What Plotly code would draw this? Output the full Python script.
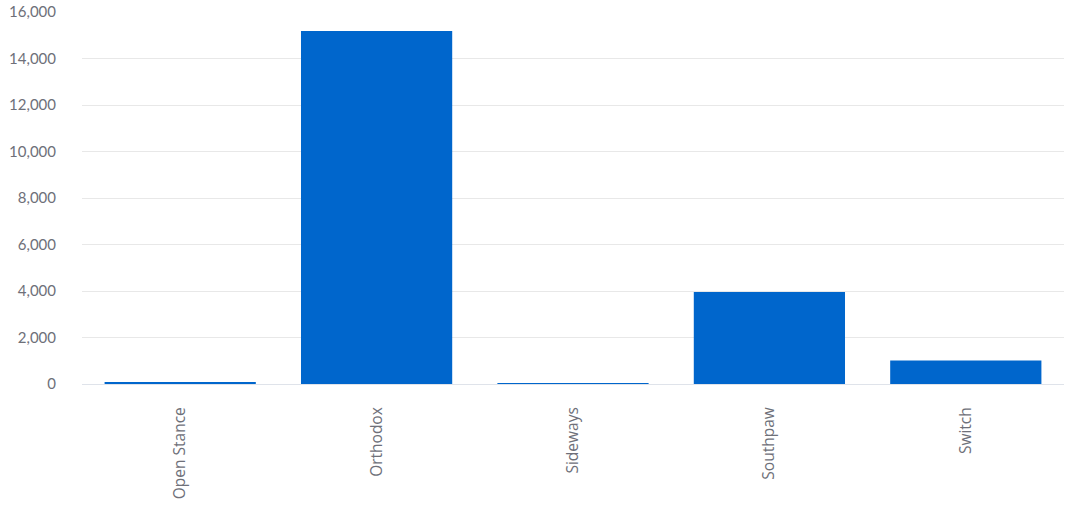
import plotly.graph_objects as go

stances = ["Open Stance", "Orthodox", "Sideways", "Southpaw", "Switch"]
fighters = [45, 15180, 12, 3960, 1010]
y_ticks = [0, 2000, 4000, 6000, 8000, 10000, 12000, 14000, 16000]

fig = go.Figure(go.Bar(x=stances, y=fighters, marker_color="#0066cc",
                       marker_line_width=0))

fig.update_layout(
    width=1083, height=510,
    margin=dict(l=82, r=19, t=12, b=126),
    plot_bgcolor="white", paper_bgcolor="white",
    bargap=0.23, showlegend=False,
)
fig.update_xaxes(
    automargin=False,
    tickangle=-90, showgrid=False, showline=True, linecolor="#dfe3ea",
    linewidth=1, ticks="outside", ticklen=16, tickcolor="rgba(0,0,0,0)",
    tickfont=dict(family="Open Sans", size=15.5, color="#6e7079"),
)
fig.update_yaxes(
    automargin=False, ticklabeloverflow="allow",
    range=[0, 16000], tickvals=y_ticks, tickformat=",", zeroline=False,
    showgrid=True, gridcolor="#e8e8e8", showline=False,
    ticks="outside", ticklen=22, tickcolor="rgba(0,0,0,0)",
    tickfont=dict(family="Lato", size=15, color="#6e7079"),
)

# drop the browser's default 8px body margin so the figure sits at 0,0
fig.write_html("out.html", config={"displayModeBar": False},
               post_script="document.body.style.margin = '0';")
